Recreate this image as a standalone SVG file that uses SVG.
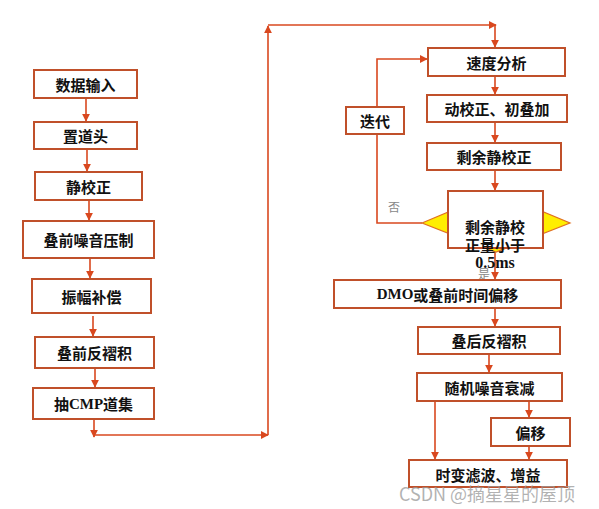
<svg xmlns="http://www.w3.org/2000/svg" width="599" height="509" viewBox="0 0 599 509">
<style>
.box{fill:#fff;stroke:#c0502a;stroke-width:2}
.t{font-family:"Noto Sans CJK SC","Liberation Serif",serif;font-weight:bold;font-size:15px;fill:#111;text-anchor:middle;dominant-baseline:central}
.c{fill:none;stroke:#d9481f;stroke-width:1.6}
.g{font-family:"Noto Sans CJK SC",serif;font-size:12px;fill:#888;text-anchor:middle;dominant-baseline:central}
</style>
<defs>
<marker id="ah" viewBox="0 0 10 10" refX="9" refY="5" markerWidth="8" markerHeight="8" markerUnits="userSpaceOnUse" orient="auto">
<path d="M0,0 L10,5 L0,10 z" fill="#d9481f"/>
</marker>
</defs>
<rect width="599" height="509" fill="#fff"/>
<g id="connectors">
<path class="c" d="M86,98 V121" marker-end="url(#ah)"/>
<path class="c" d="M87,149 V171" marker-end="url(#ah)"/>
<path class="c" d="M89,200 V220" marker-end="url(#ah)"/>
<path class="c" d="M90,258 V278" marker-end="url(#ah)"/>
<path class="c" d="M93,316 V336" marker-end="url(#ah)"/>
<path class="c" d="M95,368 V387" marker-end="url(#ah)"/>
<path class="c" d="M94,419 V437" marker-end="url(#ah)"/>
<path class="c" d="M94,435 H268" marker-end="url(#ah)"/>
<path class="c" d="M268,435 V26" marker-end="url(#ah)"/>
<path class="c" d="M268,25 H496" marker-end="url(#ah)"/>
<path class="c" d="M495,25 V47" marker-end="url(#ah)"/>
<path class="c" d="M495,76 V94" marker-end="url(#ah)"/>
<path class="c" d="M495,122 V142" marker-end="url(#ah)"/>
<path class="c" d="M495,170 V190" marker-end="url(#ah)"/>
<path class="c" d="M422,223 H377 V134"/>
<path class="c" d="M377,107 V59 H427" marker-end="url(#ah)"/>
<path class="c" d="M495,252 V279" marker-end="url(#ah)"/>
<path class="c" d="M495,308 V326" marker-end="url(#ah)"/>
<path class="c" d="M489,354 V372" marker-end="url(#ah)"/>
<path class="c" d="M435,401 V459" marker-end="url(#ah)"/>
<path class="c" d="M529,401 V417" marker-end="url(#ah)"/>
<path class="c" d="M529,446 V459" marker-end="url(#ah)"/>
</g>
<g id="n1"><rect class="box" x="34" y="70" width="103" height="28"/><text class="t" x="85.5" y="84">数据输入</text></g>
<g id="n2"><rect class="box" x="34" y="122" width="103" height="27"/><text class="t" x="85.5" y="135.5">置道头</text></g>
<g id="n3"><rect class="box" x="35" y="172" width="107" height="28"/><text class="t" x="88.5" y="186">静校正</text></g>
<g id="n4"><rect class="box" x="23" y="221" width="131" height="37"/><text class="t" x="88.5" y="239.5">叠前噪音压制</text></g>
<g id="n5"><rect class="box" x="32" y="279" width="119" height="34"/><text class="t" x="91.5" y="296">振幅补偿</text></g>
<g id="n6"><rect class="box" x="35" y="337" width="119" height="31"/><text class="t" x="94.5" y="352.5">叠前反褶积</text></g>
<g id="n7"><rect class="box" x="33" y="388" width="121" height="31"/><text class="t" x="93.5" y="403.5">抽<tspan style="font-family:'Liberation Serif',serif">CMP</tspan>道集</text></g>
<g id="n8"><rect class="box" x="428" y="48" width="137" height="28"/><text class="t" x="496.5" y="62">速度分析</text></g>
<g id="n9"><rect class="box" x="427" y="95" width="140" height="27"/><text class="t" x="497" y="108.5">动校正、初叠加</text></g>
<g id="n10"><rect class="box" x="427" y="143" width="134" height="27"/><text class="t" x="494" y="156.5">剩余静校正</text></g>
<g id="n11"><rect class="box" x="346" y="107" width="58" height="27"/><text class="t" x="375" y="120.5">迭代</text></g>
<g id="n12">
<polygon points="422,223 496,192 570,223 496,252" fill="#ffee00" stroke="#e07020" stroke-width="1.2"/>
<rect class="box" x="448" y="191" width="95" height="57"/>
<text class="t" x="495" y="226">剩余静校</text>
<text class="t" x="495" y="244">正量小于</text>
<text class="t" x="495" y="262" style="font-family:'Liberation Serif',serif;font-size:16px">0.5ms</text>
<text class="g" x="394" y="206">否</text>
<text class="g" x="484" y="273">是</text>
</g>
<g id="n13"><rect class="box" x="334" y="280" width="227" height="28"/><text class="t" x="447.5" y="294"><tspan style="font-family:'Liberation Serif',serif">DMO</tspan>或叠前时间偏移</text></g>
<g id="n14"><rect class="box" x="418" y="327" width="142" height="27"/><text class="t" x="489" y="340.5">叠后反褶积</text></g>
<g id="n15"><rect class="box" x="417" y="373" width="145" height="28"/><text class="t" x="489.5" y="387">随机噪音衰减</text></g>
<g id="n16"><rect class="box" x="491" y="418" width="79" height="28"/><text class="t" x="530.5" y="432">偏移</text></g>
<g id="n17"><rect class="box" x="409" y="460" width="158" height="27"/><text class="t" x="488" y="474">时变滤波、增益</text></g>
<text x="487" y="493" font-family="'Noto Sans CJK SC',sans-serif" font-size="18" fill="#999" fill-opacity="0.75" text-anchor="middle" dominant-baseline="central">CSDN @摘星星的屋顶</text>
</svg>
